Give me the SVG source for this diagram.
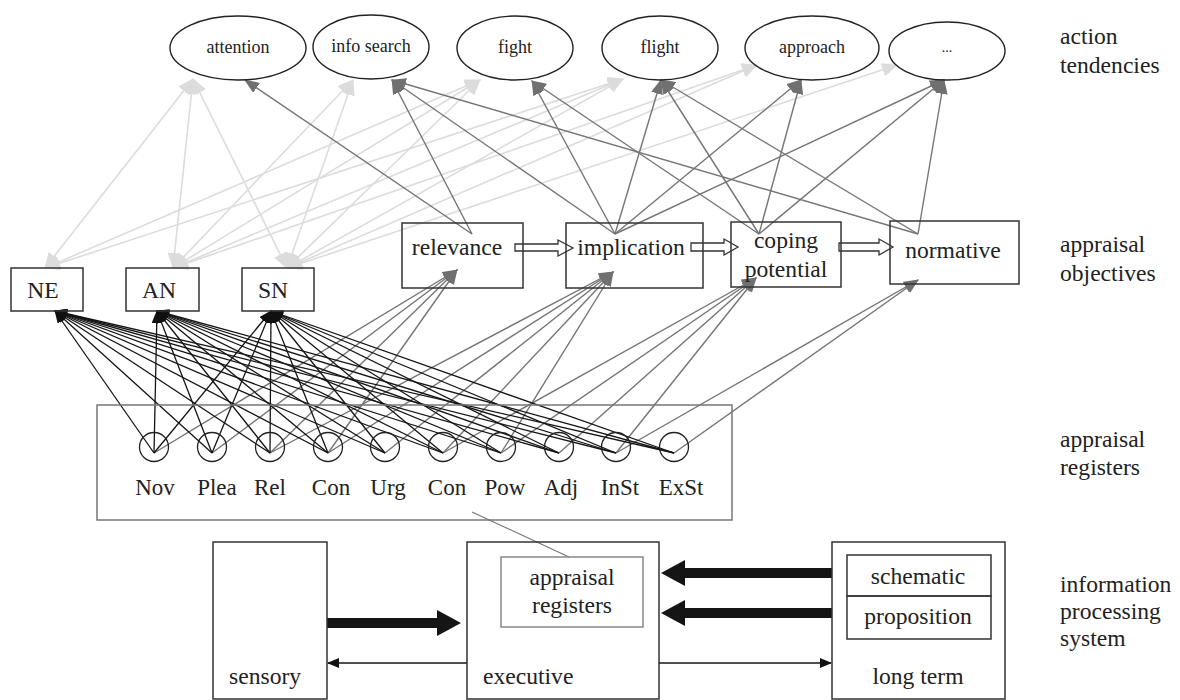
<svg xmlns="http://www.w3.org/2000/svg" width="1180" height="700" viewBox="0 0 1180 700" font-family="'Liberation Serif', 'Times New Roman', serif">
<style>
text{font-family:"Liberation Serif","Times New Roman",serif;fill:#222}
.box{fill:none;stroke:#333;stroke-width:1.5}
.ell{fill:none;stroke:#222;stroke-width:1.4}
.reg{fill:none;stroke:#222;stroke-width:1.3}
.t24{font-size:23.6px}
.t23{font-size:23px}
.t18{font-size:18px}
.mid{text-anchor:middle}
.lt{fill:none;stroke:#dcdcdc;stroke-width:1.6;marker-start:url(#mL);marker-end:url(#mL)}
.gr{fill:none;stroke:#757575;stroke-width:1.4;marker-end:url(#mG)}
.bk{fill:none;stroke:#151515;stroke-width:1.3;marker-end:url(#mB)}
.thin{fill:none;stroke:#151515;stroke-width:1.5;marker-end:url(#mS)}
.hollow{fill:#fff;stroke:#333;stroke-width:1.3}
.thick{fill:#151515;stroke:none}
</style>
<defs>
<marker id="mL" markerUnits="userSpaceOnUse" markerWidth="16" markerHeight="14" refX="15" refY="7" orient="auto-start-reverse"><path d="M0,0 L16,7 L0,14 z" fill="#dcdcdc"/></marker>
<marker id="mG" markerUnits="userSpaceOnUse" markerWidth="15" markerHeight="12" refX="14" refY="6" orient="auto"><path d="M0,0 L15,6 L0,12 z" fill="#707070"/></marker>
<marker id="mB" markerUnits="userSpaceOnUse" markerWidth="13" markerHeight="10" refX="12" refY="5" orient="auto"><path d="M0,0 L13,5 L0,10 z" fill="#111"/></marker>
<marker id="mS" markerUnits="userSpaceOnUse" markerWidth="12" markerHeight="10" refX="11" refY="5" orient="auto"><path d="M0,0 L12,5 L0,10 z" fill="#111"/></marker>
</defs>

<g id="connectors">
  <g id="light-links">
    <path class="lt" d="M45,268 L193,79"/>
    <path class="lt" d="M45,268 L480,80"/>
    <path class="lt" d="M45,268 L623,79"/>
    <path class="lt" d="M173,268 L193,79"/>
    <path class="lt" d="M173,268 L353,80"/>
    <path class="lt" d="M173,268 L480,80"/>
    <path class="lt" d="M173,268 L623,79"/>
    <path class="lt" d="M173,268 L757,65"/>
    <path class="lt" d="M287,268 L193,79"/>
    <path class="lt" d="M287,268 L353,80"/>
    <path class="lt" d="M287,268 L480,80"/>
    <path class="lt" d="M287,268 L623,79"/>
    <path class="lt" d="M287,268 L757,65"/>
    <path class="lt" d="M287,268 L897,65"/>
  </g>
  <g id="objective-to-tendency">
    <path class="gr" d="M472,234 L245,80"/>
    <path class="gr" d="M472,234 L392,80"/>
    <path class="gr" d="M615,234 L392,80"/>
    <path class="gr" d="M615,234 L532,81"/>
    <path class="gr" d="M615,234 L661,80"/>
    <path class="gr" d="M615,234 L801,80"/>
    <path class="gr" d="M615,234 L944,80"/>
    <path class="gr" d="M759,234 L532,81"/>
    <path class="gr" d="M759,234 L661,80"/>
    <path class="gr" d="M759,234 L801,80"/>
    <path class="gr" d="M759,234 L944,80"/>
    <path class="gr" d="M918,234 L392,80"/>
    <path class="gr" d="M918,234 L661,80"/>
    <path class="gr" d="M918,234 L944,80"/>
  </g>
  <g id="register-to-objective">
    <path class="gr" d="M154,453 L457,270"/>
    <path class="gr" d="M212,453 L457,270"/>
    <path class="gr" d="M270,453 L457,270"/>
    <path class="gr" d="M328,453 L457,270"/>
    <path class="gr" d="M270,453 L613,272"/>
    <path class="gr" d="M328,453 L613,272"/>
    <path class="gr" d="M385,453 L613,272"/>
    <path class="gr" d="M443,453 L613,272"/>
    <path class="gr" d="M501,453 L613,272"/>
    <path class="gr" d="M443,453 L756,278"/>
    <path class="gr" d="M501,453 L756,278"/>
    <path class="gr" d="M559,453 L756,278"/>
    <path class="gr" d="M616,453 L756,278"/>
    <path class="gr" d="M616,453 L918,280"/>
    <path class="gr" d="M674,453 L918,280"/>
  </g>
  <g id="register-to-state">
    <path class="bk" d="M154,453 L55,311"/><path class="bk" d="M154,453 L157,311"/><path class="bk" d="M154,453 L271,311"/>
    <path class="bk" d="M212,453 L55,311"/><path class="bk" d="M212,453 L157,311"/><path class="bk" d="M212,453 L271,311"/>
    <path class="bk" d="M270,453 L55,311"/><path class="bk" d="M270,453 L157,311"/><path class="bk" d="M270,453 L271,311"/>
    <path class="bk" d="M328,453 L55,311"/><path class="bk" d="M328,453 L157,311"/><path class="bk" d="M328,453 L271,311"/>
    <path class="bk" d="M385,453 L55,311"/><path class="bk" d="M385,453 L157,311"/><path class="bk" d="M385,453 L271,311"/>
    <path class="bk" d="M443,453 L55,311"/><path class="bk" d="M443,453 L157,311"/><path class="bk" d="M443,453 L271,311"/>
    <path class="bk" d="M501,453 L55,311"/><path class="bk" d="M501,453 L157,311"/><path class="bk" d="M501,453 L271,311"/>
    <path class="bk" d="M559,453 L55,311"/><path class="bk" d="M559,453 L157,311"/><path class="bk" d="M559,453 L271,311"/>
    <path class="bk" d="M616,453 L55,311"/><path class="bk" d="M616,453 L157,311"/><path class="bk" d="M616,453 L271,311"/>
    <path class="bk" d="M674,453 L55,311"/><path class="bk" d="M674,453 L157,311"/><path class="bk" d="M674,453 L271,311"/>
  </g>
  <g id="sequence-arrows">
    <polygon class="hollow" points="515,244 558,244 558,240 573,248 558,256 558,251 515,251"/>
    <polygon class="hollow" points="691,243 724,243 724,239 738,247 724,255 724,251 691,251"/>
    <polygon class="hollow" points="839,243 879,243 879,239 893,247 879,255 879,251 839,251"/>
  </g>
  <g id="system-arrows">
    <polygon class="thick" points="327,618 437,618 437,610 461,623 437,636 437,628 327,628"/>
    <polygon class="thick" points="832,568 685,568 685,560 661,573 685,586 685,578 832,578"/>
    <polygon class="thick" points="832,608 685,608 685,600 661,613 685,626 685,618 832,618"/>
    <path class="thin" d="M467,663 L328,663"/>
    <path class="thin" d="M659,663 L831,663"/>
    <path fill="none" stroke="#777" stroke-width="1.2" d="M472,512 L569,557"/>
  </g>
</g>

<g id="tendencies">
  <g id="t-attention"><ellipse class="ell" cx="238" cy="48" rx="68" ry="32"/><text class="t18 mid" x="238" y="53">attention</text></g>
  <g id="t-infosearch"><ellipse class="ell" cx="371" cy="47" rx="58" ry="32"/><text class="t18 mid" x="371" y="52">info search</text></g>
  <g id="t-fight"><ellipse class="ell" cx="515" cy="48" rx="58" ry="32"/><text class="t18 mid" x="515" y="53">fight</text></g>
  <g id="t-flight"><ellipse class="ell" cx="660" cy="48" rx="58" ry="32"/><text class="t18 mid" x="660" y="53">flight</text></g>
  <g id="t-approach"><ellipse class="ell" cx="812" cy="48" rx="67" ry="32"/><text class="t18 mid" x="812" y="53">approach</text></g>
  <g id="t-more"><ellipse class="ell" cx="947" cy="51" rx="58" ry="29"/><text class="mid" x="947" y="52" style="font-size:14px">...</text></g>
</g>

<g id="states">
  <g id="s-NE"><rect class="box" x="11" y="268" width="72" height="43"/><text class="t24 mid" x="43" y="298">NE</text></g>
  <g id="s-AN"><rect class="box" x="126" y="268" width="73" height="43"/><text class="t24 mid" x="159" y="298">AN</text></g>
  <g id="s-SN"><rect class="box" x="242" y="268" width="72" height="43"/><text class="t24 mid" x="273" y="298">SN</text></g>
</g>

<g id="objectives">
  <g id="o-relevance"><rect class="box" x="402" y="223" width="121" height="65"/><text class="t24 mid" x="457" y="255">relevance</text></g>
  <g id="o-implication"><rect class="box" x="566" y="223" width="137" height="65"/><text class="t24 mid" x="631" y="255">implication</text></g>
  <g id="o-coping"><rect class="box" x="731" y="222" width="110" height="65"/><text class="t24 mid" x="786" y="248">coping</text><text class="t24 mid" x="786" y="277">potential</text></g>
  <g id="o-normative"><rect class="box" x="890" y="221" width="129" height="63"/><text class="t24 mid" x="953" y="258">normative</text></g>
</g>

<g id="registers">
  <rect fill="none" stroke="#777" stroke-width="1.5" x="97" y="405" width="635" height="115"/>
  <g id="r-nov"><circle class="reg" cx="154" cy="447" r="14.5"/><text class="t23 mid" x="155" y="495">Nov</text></g>
  <g id="r-plea"><circle class="reg" cx="212" cy="447" r="14.5"/><text class="t23 mid" x="217" y="495">Plea</text></g>
  <g id="r-rel"><circle class="reg" cx="270" cy="447" r="14.5"/><text class="t23 mid" x="270" y="495">Rel</text></g>
  <g id="r-con1"><circle class="reg" cx="328" cy="447" r="14.5"/><text class="t23 mid" x="331" y="495">Con</text></g>
  <g id="r-urg"><circle class="reg" cx="385" cy="447" r="14.5"/><text class="t23 mid" x="388" y="495">Urg</text></g>
  <g id="r-con2"><circle class="reg" cx="443" cy="447" r="14.5"/><text class="t23 mid" x="447" y="495">Con</text></g>
  <g id="r-pow"><circle class="reg" cx="501" cy="447" r="14.5"/><text class="t23 mid" x="505" y="495">Pow</text></g>
  <g id="r-adj"><circle class="reg" cx="559" cy="447" r="14.5"/><text class="t23 mid" x="561" y="495">Adj</text></g>
  <g id="r-inst"><circle class="reg" cx="616" cy="447" r="14.5"/><text class="t23 mid" x="620" y="495">InSt</text></g>
  <g id="r-exst"><circle class="reg" cx="674" cy="447" r="14.5"/><text class="t23 mid" x="681" y="495">ExSt</text></g>
</g>

<g id="system">
  <g id="sensory"><rect class="box" x="213" y="542" width="114" height="157"/><text class="t24" x="229" y="684">sensory</text></g>
  <g id="executive"><rect class="box" x="467" y="542" width="192" height="157"/><text class="t24" x="483" y="684">executive</text>
    <rect fill="none" stroke="#888" stroke-width="1.5" x="501" y="557" width="142" height="70"/>
    <text class="t24 mid" x="572" y="585">appraisal</text><text class="t24 mid" x="572" y="613">registers</text></g>
  <g id="longterm"><rect class="box" x="832" y="542" width="173" height="157"/>
    <rect class="box" x="847" y="555" width="144" height="41"/><text class="t24 mid" x="918" y="584">schematic</text>
    <rect class="box" x="847" y="596" width="144" height="43"/><text class="t24 mid" x="918" y="624">proposition</text>
    <text class="t24 mid" x="918" y="684">long term</text></g>
</g>

<g id="level-labels">
  <text class="t24" x="1060" y="44">action</text><text class="t24" x="1060" y="73">tendencies</text>
  <text class="t24" x="1060" y="252">appraisal</text><text class="t24" x="1060" y="281">objectives</text>
  <text class="t24" x="1060" y="447">appraisal</text><text class="t24" x="1060" y="475">registers</text>
  <text class="t24" x="1060" y="592">information</text><text class="t24" x="1060" y="619">processing</text><text class="t24" x="1060" y="646">system</text>
</g>
</svg>
